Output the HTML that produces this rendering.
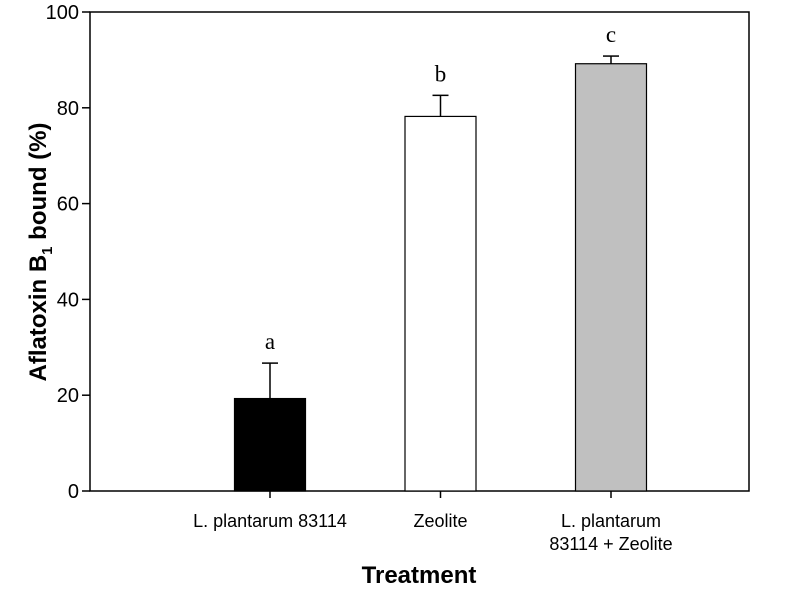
<!DOCTYPE html>
<html><head><meta charset="utf-8"><style>
body{margin:0;background:#fff}
svg{display:block}
text{font-family:"Liberation Sans",Arial,sans-serif;fill:#000}
</style></head><body>
<svg id="chart" width="786" height="594">
<rect x="90" y="12" width="659" height="479" fill="none" stroke="#000" stroke-width="1.5"/>
<g id="yaxis"></g>
<g id="bars"></g>
<text x="0" y="0" transform="translate(46,252) rotate(-90)" text-anchor="middle" font-size="24" font-weight="bold">Aflatoxin B<tspan font-size="15" dy="6">1</tspan><tspan dy="-6"> bound (%)</tspan></text>
<text x="419" y="583" text-anchor="middle" font-size="24" font-weight="bold">Treatment</text>
</svg>
<script>
const categories=[["L. plantarum 83114"],["Zeolite"],["L. plantarum","83114 + Zeolite"]];
const values=[19.3,78.2,89.2];
const errors=[7.4,4.4,1.6];
const letters=["a","b","c"];
const fills=["#000","#fff","#c0c0c0"];
const yTicks=[0,20,40,60,80,100];
const NS="http://www.w3.org/2000/svg";
const y=v=>491-v*4.79;
const xc=i=>270+i*170.5;
function mk(t,a,p){const e=document.createElementNS(NS,t);for(const k in a)e.setAttribute(k,a[k]);p.appendChild(e);return e;}
const ya=document.getElementById('yaxis'),bg=document.getElementById('bars');
yTicks.forEach(t=>{
 const l=mk('line',{x1:82,x2:90,y1:y(t),y2:y(t),stroke:'#000','stroke-width':1.5},ya);
 
 
 const tx=mk('text',{x:79,y:y(t)+7,'text-anchor':'end','font-size':20},ya);
 tx.textContent=t;
 
 
});
values.forEach((v,i)=>{
 const c=xc(i);
 const e=mk('line',{x1:c,x2:c,y1:y(v),y2:y(v+errors[i]),stroke:'#000','stroke-width':1.5},bg);
 
 
 const cap=mk('line',{x1:c-8,x2:c+8,y1:y(v+errors[i]),y2:y(v+errors[i]),stroke:'#000','stroke-width':1.5},bg);
 
 
 const r=mk('rect',{x:c-35.5,y:y(v),width:71,height:491-y(v),fill:fills[i],stroke:'#000','stroke-width':1.2},bg);
 
 
 const lt=mk('text',{x:c,y:y(v+errors[i])-14,'text-anchor':'middle','font-size':23,style:'font-family:"Liberation Serif",serif'},bg);
 lt.textContent=letters[i];
 
 
 const tk=mk('line',{x1:c,x2:c,y1:491,y2:498,stroke:'#000','stroke-width':1.5},bg);
 
 
 categories[i].forEach((s,j)=>{
  const ct=mk('text',{x:c,y:527+j*23,'text-anchor':'middle','font-size':18},bg);
  ct.textContent=s;
  
  
 });
});
</script>
</body></html>
